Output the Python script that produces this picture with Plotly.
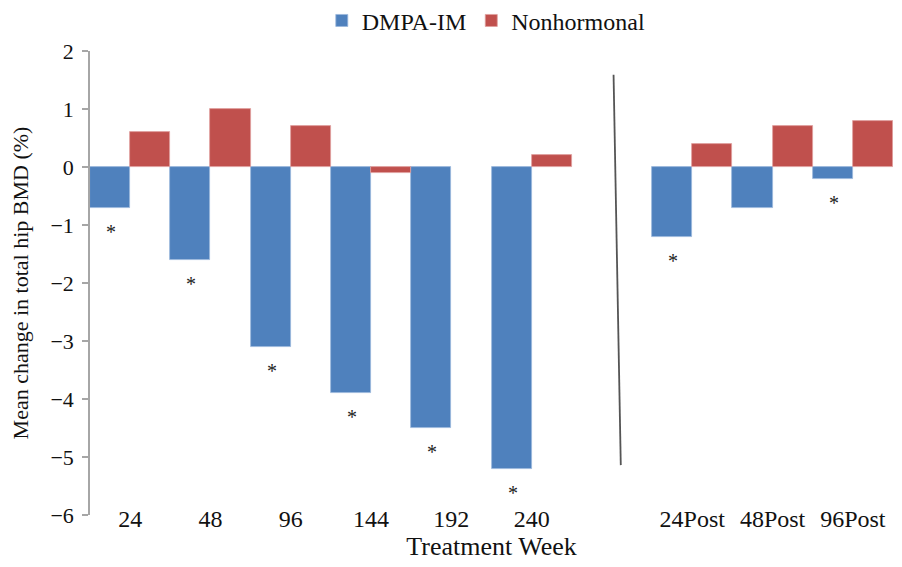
import plotly.graph_objects as go

categories = ["24", "48", "96", "144", "192", "240", " ", "24Post", "48Post", "96Post"]
dmpa = [-0.7, -1.6, -3.1, -3.9, -4.5, -5.2, None, -1.2, -0.7, -0.2]
nonhormonal = [0.6, 1.0, 0.7, -0.1, None, 0.2, None, 0.4, 0.7, 0.8]
significant = [True, True, True, True, True, True, False, True, False, True]
y_ticks = [2, 1, 0, -1, -2, -3, -4, -5, -6]
y_tick_text = [str(v).replace("-", "\u2212") for v in y_ticks]

BLUE = "#4F81BD"
RED = "#C0504D"
FONT = "Liberation Serif"

fig = go.Figure()
fig.add_trace(go.Bar(x=categories, y=dmpa, name="DMPA-IM",
                     marker=dict(color=BLUE, line=dict(color="#9bb7dc", width=0.8))))
fig.add_trace(go.Bar(x=categories, y=nonhormonal, name="Nonhormonal",
                     marker=dict(color=RED, line=dict(color="#e0a09e", width=0.8))))

for i, (v, s) in enumerate(zip(dmpa, significant)):
    if s and v is not None:
        fig.add_annotation(x=i, y=v, xref="x", yref="y", text="*", showarrow=False,
                           xshift=-19, yshift=-24,
                           font=dict(family=FONT, size=20, color="#222"))

# separator line between treatment and post-treatment periods
fig.add_shape(type="line", xref="x", yref="y", x0=6.02, y0=1.59, x1=6.11, y1=-5.14,
              line=dict(color="#555", width=1.8))

fig.update_layout(
    width=894, height=559,
    margin=dict(l=82, r=9, t=43, b=52),
    plot_bgcolor="white", paper_bgcolor="white",
    barmode="group", bargap=0, bargroupgap=0,
    font=dict(family=FONT, size=20, color="#111"),
    showlegend=True,
    legend=dict(orientation="h", x=0.535, xanchor="center", xref="container",
                y=0.977, yanchor="middle", yref="container",
                font=dict(family=FONT, size=24, color="#111")),
    xaxis=dict(type="category", range=[-0.5, 9.5], showline=False, ticks="",
               showgrid=False, zeroline=False, automargin=False,
               tickfont=dict(family=FONT, size=24, color="#111"),
               ticklabelstandoff=-13,
               title=dict(text="Treatment Week", font=dict(family=FONT, size=26), standoff=0),
               categoryorder="array", categoryarray=categories),
    yaxis=dict(range=[-6, 2], tickvals=y_ticks, ticktext=y_tick_text,
               showline=True, linecolor="#a6a6a6", linewidth=1.5,
               ticks="outside", ticklen=6, tickcolor="#a6a6a6", tickwidth=1.5,
               showgrid=False, zeroline=False, automargin=False,
               ticklabelstandoff=4,
               tickfont=dict(family=FONT, size=22, color="#111"),
               title=dict(text="Mean change in total hip BMD (%)", font=dict(family=FONT, size=22),
                          standoff=18)),
)

fig.write_html("out.html")
